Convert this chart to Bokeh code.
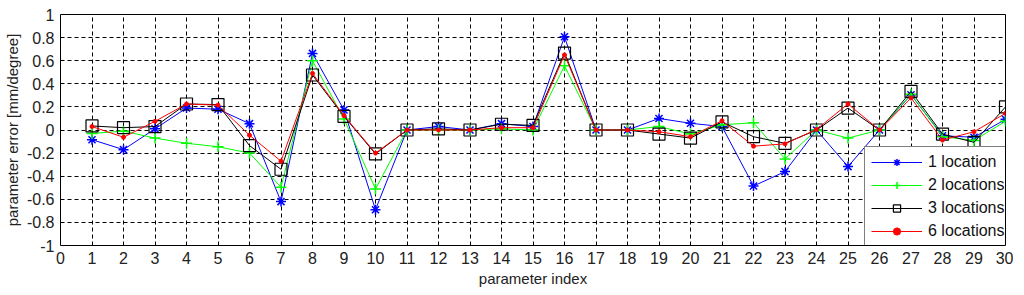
from bokeh.plotting import figure
from bokeh.models import Range1d, FixedTicker, CustomJSTickFormatter, Legend, LegendItem
from bokeh.embed import file_html
from bokeh.resources import INLINE

index = list(range(1, 31))
loc1 = [-0.084, -0.17, 0.01, 0.19, 0.18, 0.055, -0.62, 0.663, 0.173, -0.69,
        0.0, 0.03, 0.0, 0.055, 0.03, 0.807, 0.0, 0.0, 0.10, 0.058,
        0.03, -0.485, -0.36, 0.0, -0.317, 0.0, 0.305, -0.05, -0.063, 0.092]
loc2 = [-0.03, -0.01, -0.07, -0.115, -0.145, -0.20, -0.495, 0.60, 0.095, -0.51,
        0.0, 0.0, 0.0, 0.01, 0.0, 0.556, 0.0, 0.0, 0.03, -0.035,
        0.045, 0.063, -0.25, 0.0, -0.07, 0.0, 0.31, -0.058, -0.09, 0.075]
loc3 = [0.035, 0.02, 0.03, 0.225, 0.22, -0.135, -0.34, 0.476, 0.118, -0.207,
        0.0, 0.01, 0.0, 0.05, 0.04, 0.666, 0.0, 0.0, -0.035, -0.07,
        0.07, -0.058, -0.115, 0.0, 0.19, 0.0, 0.334, -0.035, -0.107, 0.20]
loc6 = [0.03, -0.063, 0.075, 0.225, 0.215, -0.045, -0.27, 0.49, 0.124, -0.20,
        0.0, 0.0, 0.0, 0.02, 0.02, 0.65, 0.0, 0.0, -0.015, -0.058,
        0.08, -0.14, -0.12, 0.005, 0.225, 0.0, 0.277, -0.087, -0.015, 0.144]
labels = ["1 location", "2 locations", "3 locations", "6 locations"]

FONT = "Liberation Sans"

p = figure(frame_width=945, frame_height=231, output_backend="svg", toolbar_location=None,
           x_range=Range1d(0, 30), y_range=Range1d(-1, 1),
           min_border_left=55, min_border_right=8, min_border_top=14, min_border_bottom=30)
p.background_fill_color = "white"
p.border_fill_color = "white"
p.outline_line_color = "black"
p.outline_line_width = 1

p.xaxis.ticker = FixedTicker(ticks=list(range(0, 31)))
p.yaxis.ticker = FixedTicker(ticks=[-1, -0.8, -0.6, -0.4, -0.2, 0, 0.2, 0.4, 0.6, 0.8, 1])
p.yaxis.formatter = CustomJSTickFormatter(code="return String(Math.round(tick*10)/10);")

for ax in (p.xaxis[0], p.yaxis[0]):
    ax.axis_line_color = None
    ax.major_tick_in = 0
    ax.major_tick_out = 0
    ax.minor_tick_line_color = None
    ax.major_label_text_font = FONT
    ax.major_label_text_font_size = "16px"
    ax.major_label_text_color = "#222222"
    ax.axis_label_text_font = FONT
    ax.axis_label_text_font_size = "15px"
    ax.axis_label_text_font_style = "normal"
    ax.axis_label_text_color = "#222222"

p.xaxis.axis_label = "parameter index"
p.yaxis.axis_label = "parameter error [mm/degree]"
p.xaxis.major_label_standoff = 6
p.xaxis.axis_label_standoff = 3
p.yaxis.major_label_standoff = 6
p.yaxis.axis_label_standoff = 3

p.xgrid.grid_line_color = "black"
p.ygrid.grid_line_color = "black"
p.xgrid.grid_line_dash = "4 3"
p.ygrid.grid_line_dash = "4 3"
p.xgrid.grid_line_width = 1
p.ygrid.grid_line_width = 1

l1 = p.line(index, loc1, line_color="#0000ff", line_width=1)
m1 = p.scatter(index, loc1, marker="asterisk", size=10, line_color="#0000ff", line_width=1.5)
l2 = p.line(index, loc2, line_color="#00ff00", line_width=1)
m2 = p.scatter(index, loc2, marker="cross", size=11, line_color="#00ff00", line_width=1.5)
l3 = p.line(index, loc3, line_color="black", line_width=1)
m3 = p.scatter(index, loc3, marker="square", size=12, line_color="black", fill_color=None, line_width=1.2)
l6 = p.line(index, loc6, line_color="#ff0000", line_width=1)
m6 = p.scatter(index, loc6, marker="circle", size=4, line_color="#ff0000", fill_color="#ff0000")

legend = Legend(items=[
    LegendItem(label=labels[0], renderers=[l1, m1]),
    LegendItem(label=labels[1], renderers=[l2, m2]),
    LegendItem(label=labels[2], renderers=[l3, m3]),
    LegendItem(label=labels[3], renderers=[l6, m6]),
], location=(804, -2))
legend.border_line_color = "black"
legend.border_line_width = 1
legend.background_fill_color = "white"
legend.background_fill_alpha = 1
legend.label_text_font = FONT
legend.label_text_font_size = "16px"
legend.label_text_color = "#111111"
legend.glyph_width = 51
legend.glyph_height = 18
legend.label_height = 18
legend.spacing = 5
legend.padding = 6
legend.margin = 0
legend.label_standoff = 6
p.add_layout(legend, "center")

open("out.html", "w").write(file_html(p, INLINE))
